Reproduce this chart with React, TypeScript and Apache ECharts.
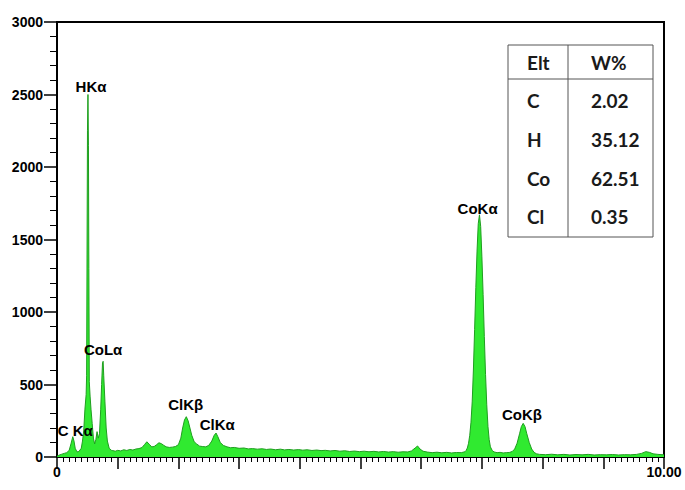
import React, { useEffect, useRef } from 'react';
import * as echarts from 'echarts';

// Spectrum: [energy keV, counts]
const spectrumLow: [number, number][] = [
  [0.0, 5], [0.03, 12], [0.07, 18], [0.12, 25], [0.16, 30], [0.2, 45], [0.23, 90], [0.26, 140],
  [0.28, 110], [0.3, 60], [0.33, 35], [0.36, 38], [0.4, 60], [0.42, 110], [0.44, 180], [0.46, 330],
  [0.48, 430], [0.488, 560], [0.495, 1400], [0.502, 2250], [0.51, 2500], [0.518, 2150], [0.525, 1300],
  [0.532, 520], [0.545, 420], [0.56, 330], [0.58, 230], [0.6, 130], [0.62, 90], [0.64, 120], [0.66, 175], [0.68, 130],
  [0.7, 160], [0.72, 330], [0.735, 500], [0.75, 650], [0.76, 660], [0.77, 560], [0.79, 380],
  [0.81, 200], [0.83, 110], [0.86, 60], [0.9, 45],
];

const spectrumMid: [number, number][] = [
  [0.92, 44], [0.96, 40], [1.0, 46], [1.05, 42], [1.1, 50], [1.15, 45], [1.2, 52], [1.25, 48],
  [1.3, 55], [1.35, 58], [1.4, 65], [1.44, 85], [1.48, 105], [1.52, 88], [1.56, 70], [1.6, 72],
  [1.64, 85], [1.68, 98], [1.72, 92], [1.76, 80], [1.8, 70], [1.85, 66], [1.9, 68], [1.95, 72],
  [2.0, 85], [2.04, 130], [2.07, 200], [2.1, 255], [2.13, 278], [2.16, 250], [2.19, 200], [2.22, 150],
  [2.26, 105], [2.3, 90], [2.35, 75], [2.4, 72], [2.45, 70], [2.5, 80], [2.55, 110], [2.59, 150],
  [2.62, 165], [2.65, 140], [2.69, 100], [2.74, 80], [2.8, 70], [2.86, 64], [2.92, 66], [3.0, 60],
  [3.08, 62], [3.15, 56], [3.22, 58], [3.3, 54], [3.38, 57], [3.45, 52], [3.52, 55], [3.6, 50],
  [3.68, 54], [3.75, 49], [3.82, 52], [3.9, 48], [3.98, 51], [4.05, 47], [4.12, 50], [4.2, 45],
  [4.28, 48], [4.35, 44], [4.42, 46], [4.5, 42], [4.58, 45], [4.66, 40], [4.74, 43], [4.82, 38],
  [4.9, 41], [4.98, 37], [5.06, 40], [5.14, 36], [5.22, 39], [5.3, 35], [5.38, 38], [5.46, 34],
  [5.54, 37], [5.62, 33], [5.7, 36], [5.78, 35], [5.84, 42], [5.9, 62], [5.94, 76], [5.98, 55],
  [6.03, 40], [6.1, 34], [6.18, 30], [6.26, 33], [6.34, 29], [6.42, 32], [6.5, 28], [6.58, 31],
  [6.66, 30],
];

const spectrumCoK: [number, number][] = [
  [6.72, 36], [6.74, 45], [6.76, 62], [6.78, 95], [6.8, 150], [6.82, 240], [6.84, 380], [6.86, 600],
  [6.88, 880], [6.9, 1170], [6.92, 1420], [6.94, 1610], [6.96, 1670], [6.98, 1590], [7.0, 1380],
  [7.02, 1120], [7.04, 830], [7.06, 570], [7.08, 360], [7.1, 210], [7.12, 120], [7.14, 70],
  [7.17, 45], [7.2, 35], [7.25, 30], [7.3, 32], [7.35, 28], [7.4, 30], [7.45, 31], [7.5, 38],
  [7.54, 55], [7.58, 95], [7.62, 160], [7.65, 210], [7.68, 232], [7.71, 210], [7.74, 160],
  [7.78, 100], [7.82, 55], [7.86, 32], [7.9, 22],
];

const spectrumHigh: [number, number][] = [
  [7.95, 18], [8.05, 16], [8.15, 19], [8.25, 15], [8.35, 18], [8.45, 14], [8.55, 17], [8.65, 15],
  [8.75, 18], [8.85, 14], [8.95, 16], [9.05, 15], [9.15, 17], [9.25, 14], [9.35, 16], [9.45, 15],
  [9.55, 18], [9.63, 25], [9.7, 37], [9.76, 32], [9.82, 22], [9.9, 18], [10.0, 15],
];

// Peak annotations: name, energy, counts (label centre)
const peakNames = ['HKα', 'CoLα', 'C Kα', 'ClKβ', 'ClKα', 'CoKα', 'CoKβ'];
const peakEnergy = [0.56, 0.76, 0.3, 2.12, 2.64, 6.93, 7.66];
const peakCounts = [2552, 738, 186, 359, 221, 1717, 290];

// Composition table
const tableHeader = ['Elt', 'W%'];
const tableElements = ['C', 'H', 'Co', 'Cl'];
const tableWeights = ['2.02', '35.12', '62.51', '0.35'];

// Axis ranges
const xMin = 0;
const xMax = 10;
const xInterval = 1;
const yMin = 0;
const yMax = 3000;
const yInterval = 500;

export default function App() {
  const ref = useRef<HTMLDivElement>(null);

  useEffect(() => {
    const chart = echarts.init(ref.current!, null, { renderer: 'svg' });
    const spectrum = [...spectrumLow, ...spectrumMid, ...spectrumCoK, ...spectrumHigh];
    const labelData = peakNames.map((n, i) => ({ name: n, value: [peakEnergy[i], peakCounts[i]] }));

    const tableFont = { fontFamily: 'Lato', fontWeight: 'bold' as const, fontSize: 19, fill: '#1a1a1a' };
    const rowY = [100, 139, 178, 216];
    const tableTexts: any[] = [
      { type: 'text', x: 527, y: 62, style: { ...tableFont, text: tableHeader[0], verticalAlign: 'middle', align: 'left' } },
      { type: 'text', x: 591, y: 62, style: { ...tableFont, text: tableHeader[1], verticalAlign: 'middle', align: 'left' } },
    ];
    tableElements.forEach((el, i) => {
      tableTexts.push({ type: 'text', x: 527, y: rowY[i], style: { ...tableFont, text: el, verticalAlign: 'middle', align: 'left' } });
      tableTexts.push({ type: 'text', x: 591, y: rowY[i], style: { ...tableFont, text: tableWeights[i], verticalAlign: 'middle', align: 'left' } });
    });

    const option: any = {
      animation: false,
      backgroundColor: '#ffffff',
      grid: {
        left: 57,
        right: 21,
        top: 22,
        bottom: 33,
        show: true,
        borderColor: '#000',
        borderWidth: 2,
        backgroundColor: 'transparent',
      },
      xAxis: {
        type: 'value',
        min: xMin,
        max: xMax,
        interval: xInterval,
        axisLine: { show: true, lineStyle: { color: '#000', width: 2 } },
        axisTick: { show: true, length: 12, lineStyle: { color: '#000', width: 1.5 } },
        minorTick: { show: true, splitNumber: 10, length: 5, lineStyle: { color: '#000', width: 1 } },
        splitLine: { show: false },
        minorSplitLine: { show: false },
        axisLabel: {
          margin: 8,
          color: '#000',
          fontFamily: 'Liberation Sans, Arial',
          fontWeight: 'bold',
          fontSize: 14,
          showMinLabel: true,
          showMaxLabel: true,
          formatter: (v: number) => (v === xMin ? '0' : v === xMax ? '10.00' : ''),
        },
      },
      yAxis: {
        type: 'value',
        min: yMin,
        max: yMax,
        interval: yInterval,
        axisLine: { show: true, lineStyle: { color: '#000', width: 2 } },
        axisTick: { show: true, length: 13, lineStyle: { color: '#000', width: 1.5 } },
        minorTick: { show: true, splitNumber: 5, length: 7, lineStyle: { color: '#000', width: 1 } },
        splitLine: { show: false },
        minorSplitLine: { show: false },
        axisLabel: {
          margin: 14,
          color: '#000',
          fontFamily: 'Liberation Sans, Arial',
          fontWeight: 'bold',
          fontSize: 14,
          formatter: (v: number) => String(v),
        },
      },
      series: [
        {
          type: 'line',
          data: spectrum,
          showSymbol: false,
          symbol: 'none',
          lineStyle: { color: '#1f9e1f', width: 1 },
          areaStyle: { color: '#30ea30', opacity: 1 },
          z: 2,
        },
        {
          type: 'scatter',
          data: labelData,
          symbolSize: 0,
          itemStyle: { color: '#000', opacity: 1 },
          label: {
            show: true,
            position: 'inside',
            formatter: '{b}',
            color: '#000',
            opacity: 1,
            fontFamily: 'Liberation Sans, Arial',
            fontWeight: 'bold',
            fontSize: 15,
          },
          z: 5,
        },
      ],
      graphic: [
        {
          type: 'rect',
          shape: { x: 508, y: 45, width: 145, height: 192 },
          style: { fill: '#fff', stroke: '#555', lineWidth: 1 },
          z: 10,
        },
        { type: 'line', shape: { x1: 508, y1: 79, x2: 653, y2: 79 }, style: { stroke: '#555', lineWidth: 1 }, z: 11 },
        { type: 'line', shape: { x1: 568, y1: 45, x2: 568, y2: 237 }, style: { stroke: '#555', lineWidth: 1 }, z: 11 },
        ...tableTexts.map((t) => ({ ...t, z: 12 })),
      ],
    };
    chart.setOption(option);
    return () => chart.dispose();
  }, []);

  return (
    <div
      ref={ref}
      style={{ position: 'absolute', left: 0, top: 0, width: 685, height: 490, background: '#fff' }}
    />
  );
}
